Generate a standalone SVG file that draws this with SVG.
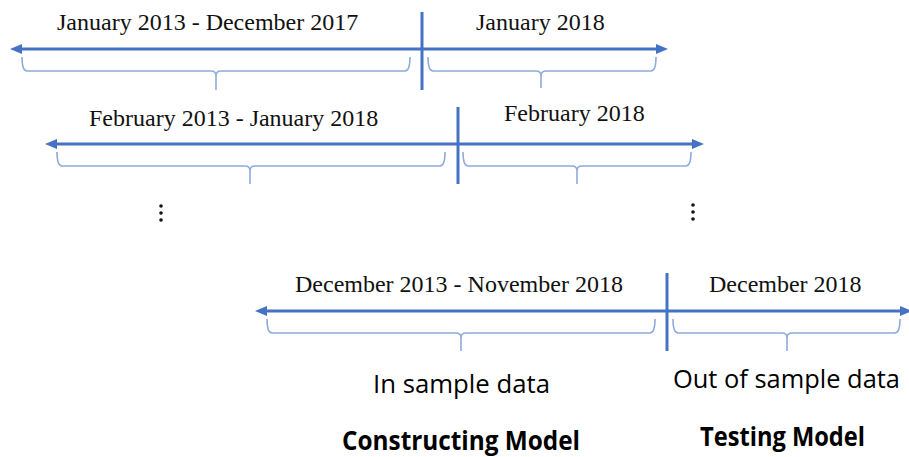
<svg xmlns="http://www.w3.org/2000/svg" width="909" height="457" viewBox="0 0 909 457">
<style>
.axis{stroke:#4472C4;stroke-width:3;fill:none}
.div{stroke:#4472C4;stroke-width:3}
.brace{stroke:#8FAADC;stroke-width:1.6;fill:none}
.date{font-family:"Liberation Serif","Times New Roman",serif;font-size:24px;fill:#111}
.lab{font-family:"Open Sans","Noto Sans",sans-serif;font-size:26px;fill:#000}
.bold{font-weight:bold;font-size:27px}
.dot{fill:#111}
</style>
<defs>
<marker id="ah" viewBox="0 0 12 10" refX="6" refY="5" markerWidth="12" markerHeight="10" markerUnits="userSpaceOnUse" orient="auto-start-reverse">
<path d="M0,0 L12,5 L0,10 Z" fill="#4472C4"/>
</marker>
</defs>
<rect width="909" height="457" fill="#fff"/>
<g id="connectors">
<line class="axis" x1="16" y1="49" x2="662" y2="49" marker-start="url(#ah)" marker-end="url(#ah)"/>
<line class="axis" x1="51" y1="144" x2="698" y2="144" marker-start="url(#ah)" marker-end="url(#ah)"/>
<line class="axis" x1="261" y1="311" x2="906" y2="311" marker-start="url(#ah)" marker-end="url(#ah)"/>
<line class="div" x1="422" y1="12" x2="422" y2="90"/>
<line class="div" x1="458" y1="107" x2="458" y2="184"/>
<line class="div" x1="667" y1="273" x2="667" y2="351"/>
</g>
<g id="row1">
<text class="date" x="57" y="30">January 2013 - December 2017</text>
<text class="date" x="476" y="30">January 2018</text>
<path class="brace" d="M22,57 Q22,71 27,71 H211 Q216,71 216,76 V90 M216,76 Q216,71 221,71 H405 Q410,71 410,57"/>
<path class="brace" d="M428,57 Q428,71 433,71 H536 Q541,71 541,76 V88 M541,76 Q541,71 546,71 H651 Q656,71 656,57"/>
</g>
<g id="row2">
<text class="date" x="89" y="126">February 2013 - January 2018</text>
<text class="date" x="504" y="121">February 2018</text>
<path class="brace" d="M57,152 Q57,166 62,166 H245 Q250,166 250,171 V184 M250,171 Q250,166 255,166 H440 Q445,166 445,152"/>
<path class="brace" d="M463,152 Q463,166 468,166 H572 Q577,166 577,171 V184 M577,171 Q577,166 582,166 H686 Q691,166 691,152"/>
</g>
<g id="ellipsis">
<circle class="dot" cx="161" cy="206" r="1.8"/>
<circle class="dot" cx="161" cy="213" r="1.8"/>
<circle class="dot" cx="161" cy="220" r="1.8"/>
<circle class="dot" cx="693" cy="205" r="1.8"/>
<circle class="dot" cx="693" cy="212" r="1.8"/>
<circle class="dot" cx="693" cy="219" r="1.8"/>
</g>
<g id="row3">
<text class="date" x="295" y="292">December 2013 - November 2018</text>
<text class="date" x="709" y="292">December 2018</text>
<path class="brace" d="M267,319 Q267,333 272,333 H456 Q461,333 461,338 V351 M461,338 Q461,333 466,333 H650 Q655,333 655,319"/>
<path class="brace" d="M673,319 Q673,333 678,333 H782 Q787,333 787,338 V351 M787,338 Q787,333 792,333 H895 Q900,333 900,319"/>
</g>
<g id="labels">
<text class="lab" x="373" y="393" textLength="177" lengthAdjust="spacingAndGlyphs">In sample data</text>
<text class="lab" x="673" y="388" textLength="227" lengthAdjust="spacingAndGlyphs">Out of sample data</text>
<text class="lab bold" x="342" y="450" textLength="238" lengthAdjust="spacingAndGlyphs">Constructing Model</text>
<text class="lab bold" x="700" y="446" textLength="165" lengthAdjust="spacingAndGlyphs">Testing Model</text>
</g>
</svg>
